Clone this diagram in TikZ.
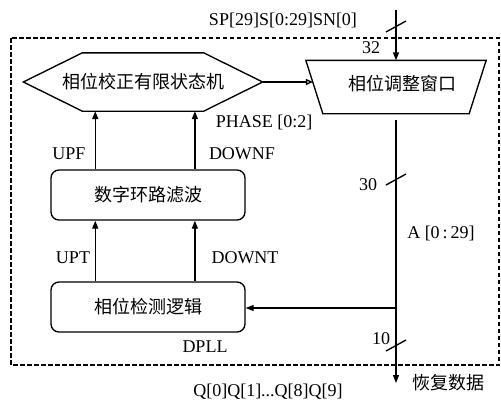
\documentclass[tikz,border=0pt]{standalone}
\usepackage{fontspec}
\setmainfont{Liberation Serif}
\newfontfamily\cjk{Noto Sans CJK SC}
\usepackage{tikz}
\usetikzlibrary{arrows.meta,calc}

\begin{document}
\begin{tikzpicture}[x=1pt,y=-1pt,>={Triangle[length=8pt,width=6pt]},line width=1.35pt,
    font=\fontsize{18}{20}\selectfont,
    cn/.style={font=\fontsize{18}{20}\selectfont\cjk},
    blk/.style={cn,draw,rounded corners=8pt,minimum width=194pt,minimum height=50pt}]
    \useasboundingbox (0,0) rectangle (501,400);
    % DPLL frame
    \draw[dash pattern=on 4.5pt off 2.5pt] (11,38) rectangle (499,365);

    % blocks
    \node[cn,minimum width=238pt,minimum height=57pt] (fsm) at (143,82) {相位校正有限状态机};
    \draw (fsm.west) -- ($(fsm.north west)+(59,0)$) -- ($(fsm.north east)+(-59,0)$) -- (fsm.east)
        -- ($(fsm.south east)+(-59,0)$) -- ($(fsm.south west)+(59,0)$) -- cycle;
    \node[cn,minimum width=179pt,minimum height=52pt,text depth=8pt] (win) at (396,87) {\hspace{12pt}相位调整窗口};
    \draw (win.north west) -- (win.north east) -- ($(win.south east)+(-17,0)$) -- ($(win.south west)+(17,0)$) -- cycle;
    \node[blk] (filt) at (148,195) {数字环路滤波};
    \node[blk] (pd) at (148,307) {相位检测逻辑};

    % bus points
    \coordinate (in) at (396,10);
    \coordinate (out) at (396,383);
    \coordinate (tap) at (396,308);
    \coordinate (winL) at ($(win.north west)!0.42!($(win.south west)+(17,0)$)$);
    \coordinate (upf) at ($(filt.north west)!0.23!(filt.north east)$);
    \coordinate (dnf) at ($(filt.north west)!0.74!(filt.north east)$);
    \coordinate (upt) at ($(pd.north west)!0.23!(pd.north east)$);
    \coordinate (dnt) at ($(pd.north west)!0.74!(pd.north east)$);

    % connectors
    \draw[-{Triangle[open,length=7pt,width=6pt]}] (fsm.east) -- (fsm.east -| winL);
    \draw[->] (in) -- (win.north);
    \draw[->,shorten <=6pt] (win.south) -- (out);
    \draw[->] (tap) -- (tap -| pd.east);
    \draw[->] (upf) -- (upf |- fsm.south);
    \draw[->] (dnf) -- (dnf |- fsm.south);
    \draw[->] (upt) -- (upt |- filt.south);
    \draw[->] (dnt) -- (dnt |- filt.south);
    \foreach \y in {27,180,346}
        \draw (386,\y+5) -- (406,\y-6);

    % labels
    \node (lsp) at (283,20) {SP[29]S[0:29]SN[0]};
    \node (l32) at (371,48) {32};
    \node (lph) at (264,122) {PHASE [0:2]};
    \node (lupf) at (69,154) {UPF};
    \node (ldnf) at (242,154) {DOWNF};
    \node (lupt) at (73,258) {UPT};
    \node (ldnt) at (245,258) {DOWNT};
    \node (ldpll) at (205,347) {DPLL};
    \node (l30) at (368,185) {30};
    \node (l10) at (381,339) {10};
    \node (la) at (441,233) {A [0\,:\,29]};
    \node (lq) at (268,392) {Q[0]Q[1]...Q[8]Q[9]};
    \node[cn] (lrec) at (448,383) {恢复数据};
\end{tikzpicture}
\end{document}
